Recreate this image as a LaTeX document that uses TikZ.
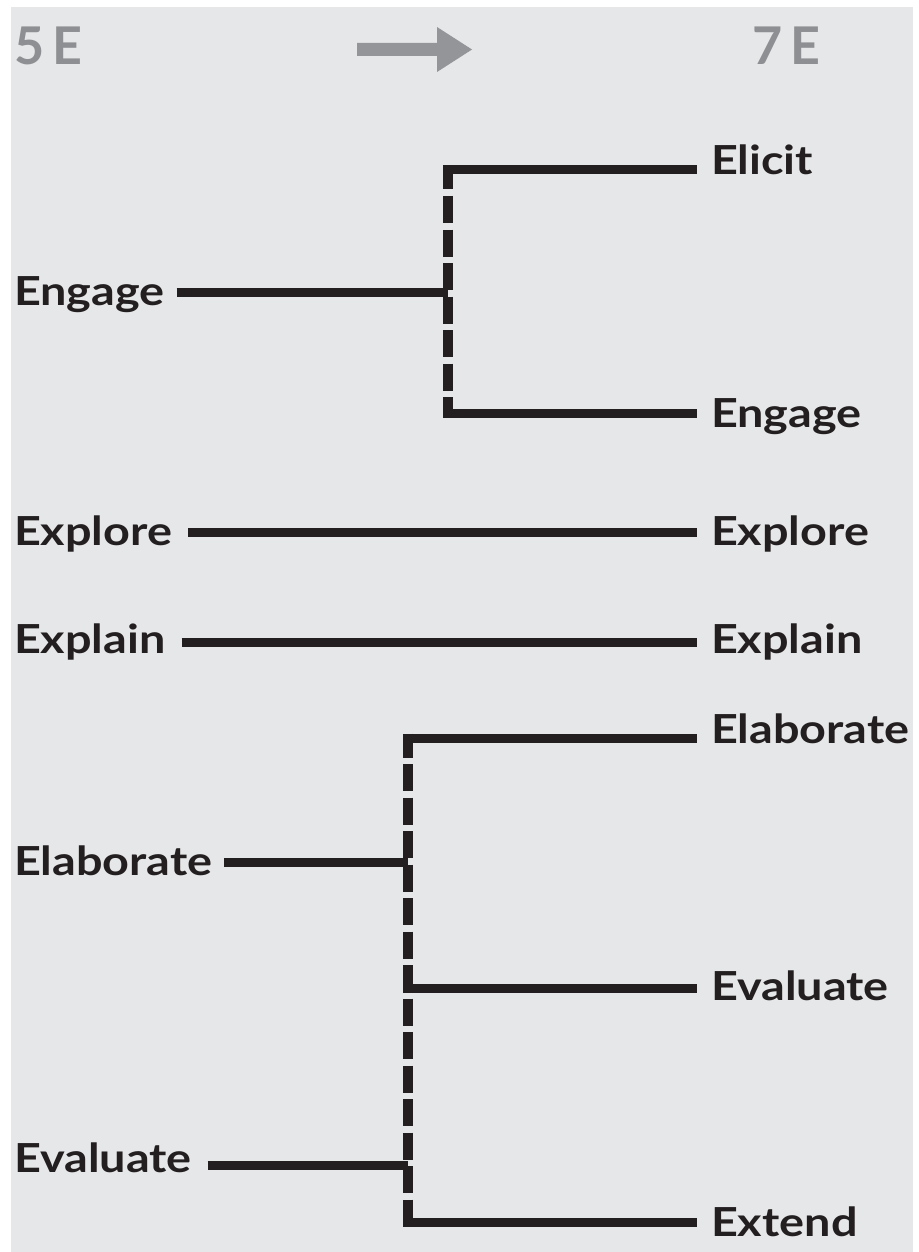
\documentclass[tikz,border=0pt]{standalone}
\usepackage{fontspec}
\setmainfont{Lato}[FakeStretch=1.17]
\newfontfamily\hdrfont{Lato}
\definecolor{bg}{HTML}{E6E7E8}
\definecolor{ink}{HTML}{231F20}
\definecolor{hd}{HTML}{8D8F92}
\definecolor{arr}{HTML}{939598}
\begin{document}
\begin{tikzpicture}[x=1pt,y=-1pt,
  lbl/.style={inner sep=0pt,outer sep=0pt,font=\fontsize{40}{48}\selectfont\bfseries,text=ink,anchor=base west},
  hdr/.style={inner sep=0pt,outer sep=0pt,font=\hdrfont\fontsize{52}{60}\selectfont\bfseries,text=hd,anchor=base west},
  bar/.style={draw=ink,line width=9pt},
  dbar/.style={draw=ink,line width=10pt,dash pattern=on 27pt off 6.5pt,dash phase=3pt}]
\useasboundingbox (0,0) rectangle (918,1252);
\fill[white] (0,0) rectangle (918,1252);
\fill[bg] (11,7) rectangle (913,1252);
% header
\node[hdr] (h5) at (14,65) {5\,E};
\node[hdr] (h7) at (752,65) {7\,E};
\fill[arr] (357,43) -- (437,43) -- (437,27) -- (472,49.5) -- (437,72) -- (437,56) -- (357,56) -- cycle;
% left labels
\node[lbl] (L1) at (14,305) {Engage};
\node[lbl] (L2) at (14,545) {Explore};
\node[lbl] (L3) at (14,653) {Explain};
\node[lbl] (L4) at (14,875) {Elaborate};
\node[lbl] (L5) at (14,1172) {Evaluate};
% right labels
\node[lbl] (R1) at (711,175) {Elicit};
\node[lbl] (R2) at (711,427) {Engage};
\node[lbl] (R3) at (711,545) {Explore};
\node[lbl] (R4) at (711,653) {Explain};
\node[lbl] (R5) at (711,743) {Elaborate};
\node[lbl] (R6) at (711,1000) {Evaluate};
\node[lbl] (R7) at (711,1236) {Extend};
% junction points
\coordinate (a1) at (448,170);
\coordinate (am) at (448,292);
\coordinate (a2) at (448,413);
\coordinate (e1) at (0,532);
\coordinate (e2) at (0,642);
\coordinate (b1) at (408,738);
\coordinate (bm1) at (408,862);
\coordinate (b2) at (408,988);
\coordinate (bm2) at (408,1165);
\coordinate (b3) at (408,1222);
% top bracket
\draw[dbar] ([yshift=4.5pt]a1) -- ([yshift=-4.5pt]a2);
\draw[bar,shorten >=14pt] ([xshift=-5pt]a1) -- (a1 -| R1.west);
\draw[bar,shorten >=14pt] ([xshift=-5pt]a2) -- (a2 -| R2.west);
\draw[bar,shorten <=12pt] (L1.east |- am) -- (am);
% straight lines
\draw[bar,shorten <=16pt,shorten >=14pt] (L2.east |- e1) -- (e1 -| R3.west);
\draw[bar,shorten <=16pt,shorten >=14pt] (L3.east |- e2) -- (e2 -| R4.west);
% bottom bracket
\draw[dbar] ([yshift=4.5pt]b1) -- ([yshift=-4.5pt]b3);
\draw[bar,shorten >=14pt] ([xshift=-5pt]b1) -- (b1 -| R5.west);
\draw[bar,shorten >=14pt] ([xshift=-5pt]b2) -- (b2 -| R6.west);
\draw[bar,shorten >=14pt] ([xshift=-5pt]b3) -- (b3 -| R7.west);
\draw[bar,shorten <=12pt] (L4.east |- bm1) -- (bm1);
\draw[bar,shorten <=16pt] (L5.east |- bm2) -- (bm2);
\end{tikzpicture}
\end{document}
